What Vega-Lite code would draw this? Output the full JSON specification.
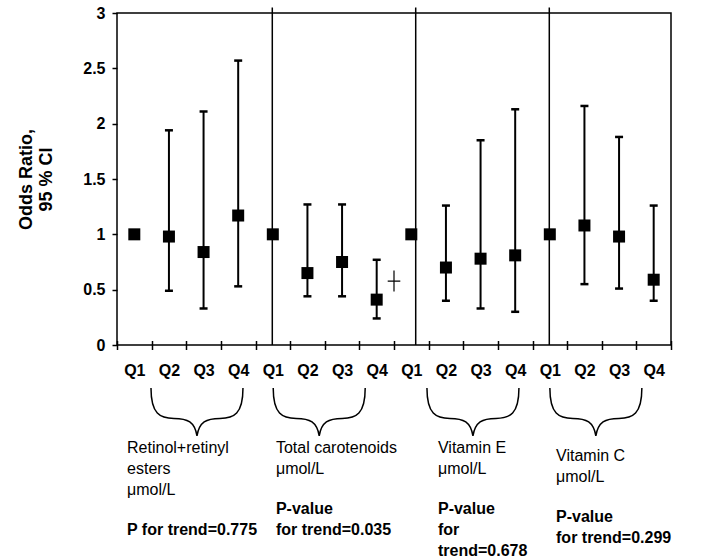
{
  "$schema": "https://vega.github.io/schema/vega-lite/v6.json",
  "width": 554,
  "height": 332,
  "autosize": {"type": "none"},
  "padding": {"left": 117, "top": 13, "right": 30, "bottom": 215},
  "background": "white",
  "config": {
    "font": "Liberation Sans",
    "view": {"stroke": "black", "strokeWidth": 1.5},
    "axis": {"grid": false, "domain": false, "tickColor": "black", "labelColor": "black", "titleColor": "black", "labelFont": "Liberation Sans", "titleFont": "Liberation Sans", "labelFontWeight": "bold", "labelFontSize": 16, "tickWidth": 1.5},
    "axisY": {"values": [0, 0.5, 1, 1.5, 2, 2.5, 3], "format": "~g", "tickSize": 5, "labelPadding": 7, "titleFontSize": 18, "titleFontWeight": "bold", "titlePadding": 27}
  },
  "resolve": {"axis": {"x": "independent", "y": "shared"}},
  "datasets": {
    "or": [
      {"g": "Retinol", "q": "Q1", "pos": 0.5, "or": 1.0},
      {"g": "Retinol", "q": "Q2", "pos": 1.5, "or": 0.98, "lo": 0.49, "hi": 1.94},
      {"g": "Retinol", "q": "Q3", "pos": 2.5, "or": 0.84, "lo": 0.33, "hi": 2.11},
      {"g": "Retinol", "q": "Q4", "pos": 3.5, "or": 1.17, "lo": 0.53, "hi": 2.57},
      {"g": "Carotenoids", "q": "Q1", "pos": 4.5, "or": 1.0},
      {"g": "Carotenoids", "q": "Q2", "pos": 5.5, "or": 0.65, "lo": 0.44, "hi": 1.27},
      {"g": "Carotenoids", "q": "Q3", "pos": 6.5, "or": 0.75, "lo": 0.44, "hi": 1.27},
      {"g": "Carotenoids", "q": "Q4", "pos": 7.5, "or": 0.41, "lo": 0.24, "hi": 0.77},
      {"g": "VitaminE", "q": "Q1", "pos": 8.5, "or": 1.0},
      {"g": "VitaminE", "q": "Q2", "pos": 9.5, "or": 0.70, "lo": 0.40, "hi": 1.26},
      {"g": "VitaminE", "q": "Q3", "pos": 10.5, "or": 0.78, "lo": 0.33, "hi": 1.85},
      {"g": "VitaminE", "q": "Q4", "pos": 11.5, "or": 0.81, "lo": 0.30, "hi": 2.13},
      {"g": "VitaminC", "q": "Q1", "pos": 12.5, "or": 1.0},
      {"g": "VitaminC", "q": "Q2", "pos": 13.5, "or": 1.08, "lo": 0.55, "hi": 2.16},
      {"g": "VitaminC", "q": "Q3", "pos": 14.5, "or": 0.98, "lo": 0.51, "hi": 1.88},
      {"g": "VitaminC", "q": "Q4", "pos": 15.5, "or": 0.59, "lo": 0.40, "hi": 1.26}
    ]
  },
  "layer": [
    {
      "data": {"values": [{"sep": 4.485}, {"sep": 8.627}, {"sep": 12.485}]},
      "mark": {"type": "rule", "color": "black", "strokeWidth": 1.5},
      "encoding": {
        "x": {"field": "sep", "type": "quantitative", "scale": {"domain": [0, 16], "nice": false, "zero": false},
              "axis": {"orient": "bottom", "values": [0,1,2,3,4,5,6,7,8,9,10,11,12,13,14,15,16], "labels": false, "tickSize": 9, "offset": -4.5, "title": null, "domain": false}},
        "y": {"datum": 0, "type": "quantitative", "scale": {"domain": [0, 3]}, "axis": {"title": ["Odds Ratio,", "95 % CI"]}},
        "y2": {"datum": 3.05}
      }
    },
    {
      "data": {"name": "or"},
      "transform": [{"filter": "isValid(datum.lo)"}],
      "mark": {"type": "rule", "color": "black", "strokeWidth": 2},
      "encoding": {
        "x": {"field": "pos", "type": "quantitative", "scale": {"domain": [0, 16], "nice": false, "zero": false}, "axis": null},
        "y": {"field": "lo", "type": "quantitative", "scale": {"domain": [0, 3]}, "axis": {"title": ["Odds Ratio,", "95 % CI"]}},
        "y2": {"field": "hi"}
      }
    },
    {
      "data": {"name": "or"},
      "transform": [{"fold": ["lo", "hi"], "as": ["end", "val"]}, {"filter": "isValid(datum.val)"}],
      "mark": {"type": "tick", "orient": "horizontal", "color": "black", "size": 8, "thickness": 2.5, "opacity": 1},
      "encoding": {
        "x": {"field": "pos", "type": "quantitative", "scale": {"domain": [0, 16], "nice": false, "zero": false}, "axis": null},
        "y": {"field": "val", "type": "quantitative", "scale": {"domain": [0, 3]}, "axis": {"title": ["Odds Ratio,", "95 % CI"]}}
      }
    },
    {
      "data": {"name": "or"},
      "mark": {"type": "square", "color": "black", "size": 144, "opacity": 1, "filled": true},
      "encoding": {
        "x": {"field": "pos", "type": "quantitative", "scale": {"domain": [0, 16], "nice": false, "zero": false},
              "axis": {"orient": "bottom", "values": [0.5,1.5,2.5,3.5,4.5,5.5,6.5,7.5,8.5,9.5,10.5,11.5,12.5,13.5,14.5,15.5], "ticks": false, "tickSize": 0, "domain": false, "labelExpr": "'Q' + (floor(datum.value) % 4 + 1)", "labelPadding": 17, "labelFontSize": 16, "title": null}},
        "y": {"field": "or", "type": "quantitative", "scale": {"domain": [0, 3]}, "axis": {"title": ["Odds Ratio,", "95 % CI"]}}
      }
    },
    {
      "data": {"values": [{"x": 8.0, "y": 0.578}]},
      "mark": {"type": "point", "shape": "M-0.6,0L0.6,0M0,-1L0,1", "size": 441, "filled": false, "stroke": "black", "strokeWidth": 1.2, "opacity": 1},
      "encoding": {
        "x": {"field": "x", "type": "quantitative", "scale": {"domain": [0, 16], "nice": false, "zero": false}, "axis": null},
        "y": {"field": "y", "type": "quantitative", "scale": {"domain": [0, 3]}, "axis": {"title": ["Odds Ratio,", "95 % CI"]}}
      }
    },
    {
      "data": {"values": [{"x": 2.31, "y": -0.605}, {"x": 5.84, "y": -0.605}, {"x": 10.28, "y": -0.605}, {"x": 13.83, "y": -0.605}]},
      "mark": {"type": "point", "shape": "M-1,-0.52C-1,0.05 -0.8,0.14 -0.5,0.14C-0.2,0.14 -0.05,0.22 0,0.52C0.05,0.22 0.2,0.14 0.5,0.14C0.8,0.14 1,0.05 1,-0.52", "size": 8464, "filled": false, "stroke": "black", "strokeWidth": 1.5, "opacity": 1},
      "encoding": {
        "x": {"field": "x", "type": "quantitative", "scale": {"domain": [0, 16], "nice": false, "zero": false}, "axis": null},
        "y": {"field": "y", "type": "quantitative", "scale": {"domain": [0, 3]}, "axis": {"title": ["Odds Ratio,", "95 % CI"]}}
      }
    },
    {
      "data": {"values": [
        {"x": 0.29, "y": -0.858, "label": "Retinol+retinyl\nesters\nμmol/L"},
        {"x": 4.59, "y": -0.858, "label": "Total carotenoids\nμmol/L"},
        {"x": 9.27, "y": -0.858, "label": "Vitamin E\nμmol/L"},
        {"x": 12.68, "y": -0.931, "label": "Vitamin C\nμmol/L"}
      ]},
      "mark": {"type": "text", "align": "left", "baseline": "top", "lineBreak": "\n", "lineHeight": 21, "fontSize": 16, "font": "Liberation Sans", "color": "black"},
      "encoding": {
        "x": {"field": "x", "type": "quantitative", "scale": {"domain": [0, 16], "nice": false, "zero": false}, "axis": null},
        "y": {"field": "y", "type": "quantitative", "scale": {"domain": [0, 3]}, "axis": {"title": ["Odds Ratio,", "95 % CI"]}},
        "text": {"field": "label"}
      }
    },
    {
      "data": {"values": [
        {"x": 0.29, "y": -1.599, "label": "P for trend=0.775"},
        {"x": 4.59, "y": -1.41, "label": "P-value\nfor trend=0.035"},
        {"x": 9.27, "y": -1.41, "label": "P-value\nfor\ntrend=0.678"},
        {"x": 12.68, "y": -1.482, "label": "P-value\nfor trend=0.299"}
      ]},
      "mark": {"type": "text", "align": "left", "baseline": "top", "lineBreak": "\n", "lineHeight": 21, "fontSize": 16, "fontWeight": "bold", "font": "Liberation Sans", "color": "black"},
      "encoding": {
        "x": {"field": "x", "type": "quantitative", "scale": {"domain": [0, 16], "nice": false, "zero": false}, "axis": null},
        "y": {"field": "y", "type": "quantitative", "scale": {"domain": [0, 3]}, "axis": {"title": ["Odds Ratio,", "95 % CI"]}},
        "text": {"field": "label"}
      }
    }
  ]
}
